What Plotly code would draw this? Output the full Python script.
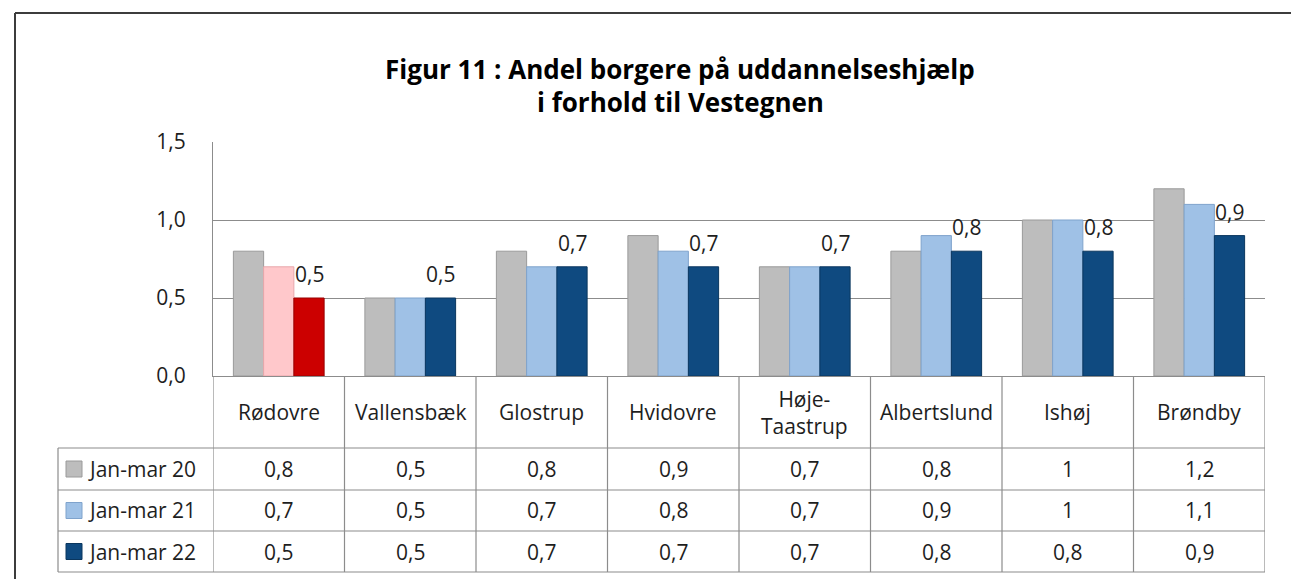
import plotly.graph_objects as go

# ---------------- data ----------------
categories = ["Rødovre", "Vallensbæk", "Glostrup", "Hvidovre", "Høje-<br>Taastrup",
              "Albertslund", "Ishøj", "Brøndby"]
series_names = ["Jan-mar 20", "Jan-mar 21", "Jan-mar 22"]
jan_mar_20 = [0.8, 0.5, 0.8, 0.9, 0.7, 0.8, 1.0, 1.2]
jan_mar_21 = [0.7, 0.5, 0.7, 0.8, 0.7, 0.9, 1.0, 1.1]
jan_mar_22 = [0.5, 0.5, 0.7, 0.7, 0.7, 0.8, 0.8, 0.9]
series_values = [jan_mar_20, jan_mar_21, jan_mar_22]
y_ticks = [0.0, 0.5, 1.0, 1.5]
title_lines = ["Figur 11 : Andel borgere på uddannelseshjælp", "i forhold til Vestegnen"]

# ---------------- style ----------------
W, H = 1291, 579
PL, PR, PT, PB = 213, 1265, 142, 376
ROW_EDGES = [376, 448, 490, 531, 572]
LEG_LEFT = 58
FONT = "Open Sans"
FS = 21
TXT = "#1e1e1e"
GRID = "#8c8c8c"
base_colors = ["#bdbdbd", "#9fc1e6", "#0f4a80"]
base_lines = ["#9a9a9a", "#7fa3cc", "#0a365e"]
highlight_colors = ["#bdbdbd", "#ffc8cb", "#cc0000"]
highlight_lines = ["#9a9a9a", "#e8a7ab", "#990000"]
highlight_index = 0  # Rødovre
BARGAP = 0.31


def px(x):
    return x / W


def py(y):
    return 1 - y / H


def fmt(v):
    if abs(v - round(v)) < 1e-9:
        return str(int(round(v)))
    return f"{v:.1f}".replace(".", ",")


fig = go.Figure()
for s, (name, vals) in enumerate(zip(series_names, series_values)):
    cols = [highlight_colors[s] if i == highlight_index else base_colors[s] for i in range(len(vals))]
    lcols = [highlight_lines[s] if i == highlight_index else base_lines[s] for i in range(len(vals))]
    fig.add_trace(go.Bar(
        x=list(range(len(categories))), y=vals, name=name,
        marker=dict(color=cols, line=dict(color=lcols, width=1)),
        showlegend=False, hoverinfo="skip",
    ))

annotations = []
# title
for k, t in enumerate(title_lines):
    annotations.append(dict(text=f"<b>{t}</b>", x=px(680), y=py(69 + 33 * k), xref="paper", yref="paper",
                            xanchor="center", yanchor="middle", showarrow=False,
                            font=dict(family=FONT, size=26, color="#000000")))

# data labels for last series, above the third bar of each group
nser = len(series_values)
bw = (1 - BARGAP) / nser
for i, v in enumerate(series_values[-1]):
    annotations.append(dict(text=fmt(v), x=i - (1 - BARGAP) / 2 + bw * (nser - 0.5), y=v,
                            xref="x", yref="y", yshift=24, showarrow=False,
                            xanchor="center", yanchor="middle",
                            font=dict(family=FONT, size=FS, color=TXT)))

# category header row
hdr_c = (ROW_EDGES[0] + ROW_EDGES[1]) / 2
for i, c in enumerate(categories):
    annotations.append(dict(text=c, x=i, y=py(hdr_c), xref="x", yref="paper", showarrow=False,
                            xanchor="center", yanchor="middle",
                            font=dict(family=FONT, size=FS, color=TXT)))

shapes = []
# value rows
for s, (name, vals) in enumerate(zip(series_names, series_values)):
    yc = (ROW_EDGES[s + 1] + ROW_EDGES[s + 2]) / 2
    annotations.append(dict(text=name, x=px(86), y=py(yc), xref="paper", yref="paper", showarrow=False,
                            xanchor="left", yanchor="middle",
                            font=dict(family=FONT, size=FS, color=TXT)))
    shapes.append(dict(type="rect", xref="paper", yref="paper",
                       x0=px(66), x1=px(82), y0=py(yc + 8), y1=py(yc - 8),
                       fillcolor=base_colors[s], line=dict(color=base_lines[s], width=1)))
    for i, v in enumerate(vals):
        annotations.append(dict(text=fmt(v), x=i, y=py(yc), xref="x", yref="paper", showarrow=False,
                                xanchor="center", yanchor="middle",
                                font=dict(family=FONT, size=FS, color=TXT)))

# table grid
for i in range(len(categories) + 1):
    shapes.append(dict(type="line", xref="x", yref="paper", x0=i - 0.5, x1=i - 0.5,
                       y0=py(ROW_EDGES[0]), y1=py(ROW_EDGES[-1]), line=dict(color=GRID, width=1.2)))
shapes.append(dict(type="line", xref="paper", yref="paper", x0=px(LEG_LEFT), x1=px(LEG_LEFT),
                   y0=py(ROW_EDGES[1]), y1=py(ROW_EDGES[-1]), line=dict(color=GRID, width=1.2)))
for ye in ROW_EDGES[1:]:
    shapes.append(dict(type="line", xref="paper", yref="paper", x0=px(LEG_LEFT), x1=px(PR),
                       y0=py(ye), y1=py(ye), line=dict(color=GRID, width=1.2)))
# outer chart border (top & left)
shapes.append(dict(type="line", xref="paper", yref="paper", x0=px(15), x1=1.0, y0=py(13), y1=py(13),
                   line=dict(color="#3c3c3c", width=2)))
shapes.append(dict(type="line", xref="paper", yref="paper", x0=px(15), x1=px(15), y0=py(13), y1=0.0,
                   line=dict(color="#3c3c3c", width=2)))

fig.update_layout(
    width=W, height=H, margin=dict(l=0, r=0, t=0, b=0, pad=0, autoexpand=False),
    paper_bgcolor="white", plot_bgcolor="white",
    barmode="group", bargap=BARGAP, bargroupgap=0,
    separators=",.", showlegend=False,
    annotations=annotations, shapes=shapes,
    xaxis=dict(domain=[px(PL), px(PR)], range=[-0.5, len(categories) - 0.5], automargin=False,
               showticklabels=False, showgrid=False, zeroline=False,
               showline=True, linecolor=GRID, linewidth=1.2, fixedrange=True),
    yaxis=dict(domain=[py(PB), py(PT)], range=[0, 1.5], tickvals=y_ticks, tickformat=".1f",
               automargin=False,
               showgrid=True, gridcolor=GRID, gridwidth=1.2, zeroline=False,
               showline=True, linecolor=GRID, linewidth=1.2, ticks="",
               ticklabelstandoff=22, tickfont=dict(family=FONT, size=FS, color=TXT), fixedrange=True),
)

fig.write_html(
    "out.html",
    config={"displayModeBar": False},
    post_script="document.documentElement.style.margin='0';document.body.style.margin='0';"
                "document.body.style.overflow='hidden';document.documentElement.style.overflow='hidden';",
)
